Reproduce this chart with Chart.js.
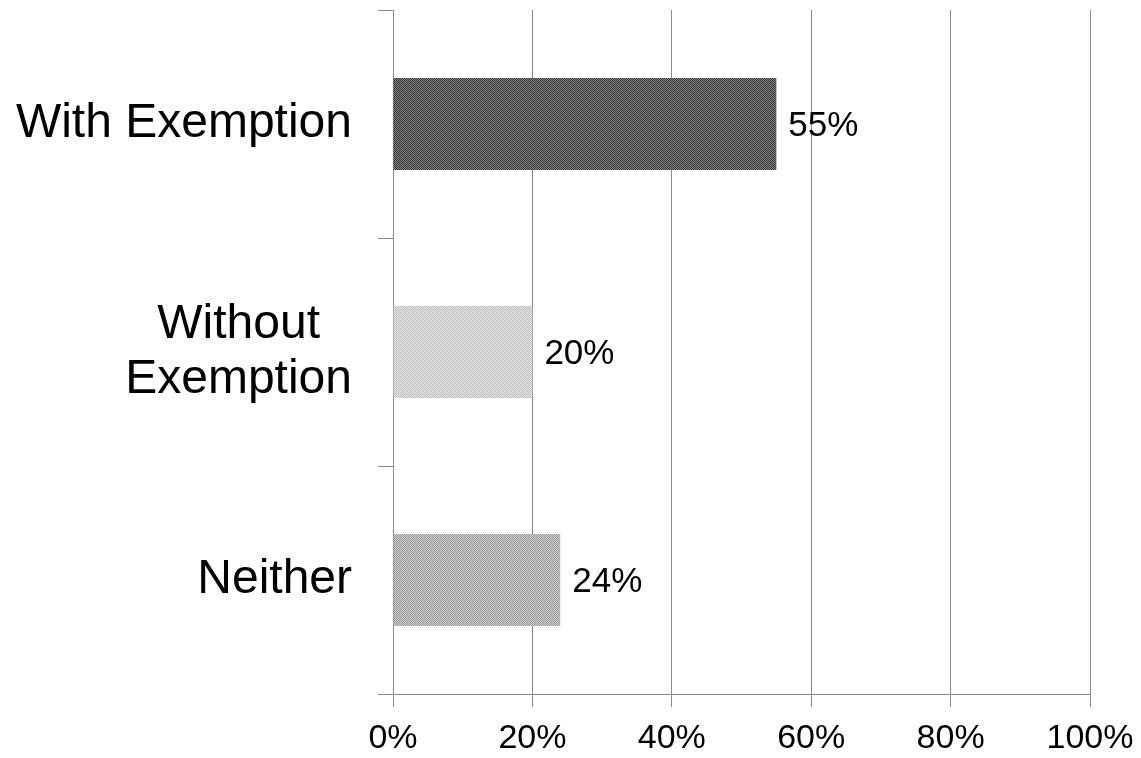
<!DOCTYPE html>
<html>
<head>
<meta charset="utf-8">
<script src="https://cdn.jsdelivr.net/npm/chart.js@4/dist/chart.umd.min.js"></script>
<style>
  html, body { margin: 0; padding: 0; background: #fff; }
  canvas { display: block; }
</style>
</head>
<body>
<canvas id="chart" width="1141" height="758"></canvas>
<script>
// Category labels (one entry per line of the label)
const categories = [['With Exemption'], ['Without', 'Exemption'], ['Neither']];
// Share of respondents, in percent
const shares = [55, 20, 24];
// Percent ticks along the horizontal axis
const xTicks = [0, 20, 40, 60, 80, 100];

const FONT = '"Liberation Sans", Arial, Helvetica, sans-serif';
const GRID = '#8a8a8a';

// Fine two-tone stipple used as bar fill
function stipple(light, dark) {
  const c = document.createElement('canvas');
  c.width = 2; c.height = 2;
  const g = c.getContext('2d');
  g.fillStyle = light; g.fillRect(0, 0, 2, 2);
  g.fillStyle = dark; g.fillRect(0, 0, 1, 1); g.fillRect(1, 1, 1, 1);
  return g.createPattern(c, 'repeat');
}
const fills = [
  stipple('#7c7c7c', '#3c3c3c'),
  stipple('#e8e8e8', '#bcbcbc'),
  stipple('#d0d0d0', '#989898')
];

const labelPlugin = {
  id: 'barLabels',
  afterDraw(chart) {
    const { ctx, scales: { y } } = chart;
    ctx.save();
    ctx.fillStyle = '#000';
    ctx.textBaseline = 'middle';

    // Category names: block right-aligned next to the axis, lines centred in the block
    ctx.font = '48px ' + FONT;
    ctx.textAlign = 'center';
    const right = y.right - 41;
    const lineH = 55;
    categories.forEach((lines, i) => {
      const cy = y.getPixelForValue(i);
      const w = Math.max(...lines.map(l => ctx.measureText(l).width));
      const cx = right - w / 2;
      lines.forEach((l, j) => ctx.fillText(l, cx, cy + (j - (lines.length - 1) / 2) * lineH));
    });

    // Value labels at the end of each bar
    ctx.font = '35px ' + FONT;
    ctx.textAlign = 'left';
    chart.getDatasetMeta(0).data.forEach((bar, i) => {
      ctx.fillText(shares[i] + '%', bar.x + 12, bar.y + 2);
    });
    ctx.restore();
  }
};

new Chart(document.getElementById('chart'), {
  type: 'bar',
  data: {
    labels: categories.map(l => l.join(' ')),
    datasets: [{
      data: shares,
      backgroundColor: fills,
      borderWidth: 0,
      categoryPercentage: 1,
      barPercentage: 0.404
    }]
  },
  options: {
    indexAxis: 'y',
    responsive: false,
    animation: false,
    layout: { padding: { top: 10, right: 0, left: 0, bottom: 0 } },
    plugins: { legend: { display: false }, tooltip: { enabled: false } },
    scales: {
      x: {
        min: 0,
        max: 100,
        afterBuildTicks: s => { s.ticks = xTicks.map(v => ({ value: v })); },
        ticks: {
          callback: v => v + '%',
          font: { family: FONT, size: 34 },
          color: '#000',
          padding: 11,
          maxRotation: 0,
          autoSkip: false
        },
        grid: { color: GRID, lineWidth: 1, tickLength: 13, drawTicks: true },
        border: { color: GRID, width: 1 },
        afterFit: s => { s.height = 64; s.paddingRight = 51; }
      },
      y: {
        grid: { drawOnChartArea: false, drawTicks: true, tickLength: 15, color: GRID, offset: true },
        ticks: { display: false },
        border: { color: GRID, width: 1 },
        afterFit: s => { s.width = 393; }
      }
    }
  },
  plugins: [labelPlugin]
});
</script>
</body>
</html>
